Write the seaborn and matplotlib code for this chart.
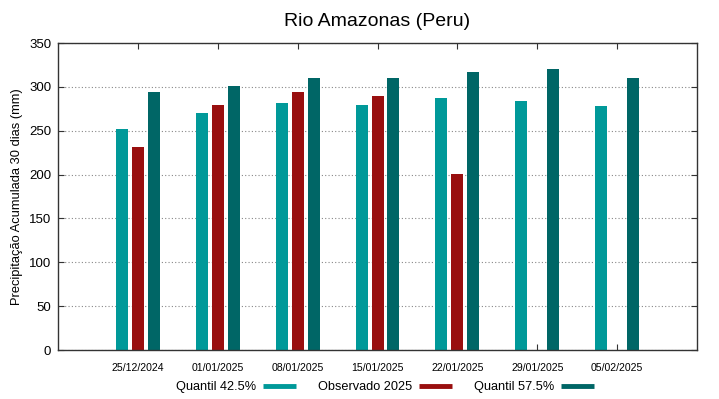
import numpy as np
import pandas as pd
import seaborn as sns
import matplotlib.pyplot as plt
from matplotlib.lines import Line2D

datas = ["25/12/2024", "01/01/2025", "08/01/2025", "15/01/2025",
         "22/01/2025", "29/01/2025", "05/02/2025"]
quantil_425 = [252, 270, 282, 279, 287, 284, 278]
observado_2025 = [232, 279, 294, 290, 201, np.nan, np.nan]
quantil_575 = [294, 301, 310, 310, 317, 320, 310]

series = ["Quantil 42.5%", "Observado 2025", "Quantil 57.5%"]
cores = ["#009999", "#990f0f", "#006666"]

df = pd.DataFrame({
    "data": datas * 3,
    "serie": [series[0]] * 7 + [series[1]] * 7 + [series[2]] * 7,
    "valor": quantil_425 + observado_2025 + quantil_575,
})

sns.set_style("white")
plt.rcParams["font.family"] = ["Liberation Sans", "DejaVu Sans"]
plt.rcParams["text.color"] = "black"
plt.rcParams["xtick.labelcolor"] = "black"
plt.rcParams["ytick.labelcolor"] = "black"
plt.rcParams["axes.labelcolor"] = "black"

fig = plt.figure(figsize=(7.19, 3.99), dpi=100)
ax = fig.add_axes([0.0807, 0.1228, 0.8887, 0.7692])

sns.barplot(data=df, x="data", y="valor", hue="serie", order=datas,
            hue_order=series, palette=cores, width=0.6, gap=0.25,
            saturation=1, edgecolor="none", legend=False, ax=ax, zorder=2)

ax.set_xlim(-1, 7)
ax.set_ylim(0, 350)
ax.set_yticks(range(0, 351, 50))
ax.grid(axis="y", linestyle=(0, (1, 2)), color="#888888", linewidth=0.8, zorder=0)
ax.set_axisbelow(True)

ax.tick_params(axis="both", direction="in", length=4, width=0.8,
               top=True, right=True, bottom=True, left=True, color="#333333")
ax.tick_params(axis="y", labelsize=9.5, pad=5)
ax.tick_params(axis="x", labelsize=7.6, pad=9)
for s in ax.spines.values():
    s.set_color("#333333")
    s.set_linewidth(1)

ax.set_xlabel("")
ax.set_ylabel("Precipitação Acumulada 30 dias (mm)", fontsize=9.3, labelpad=4)
ax.set_title("Rio Amazonas (Peru)", fontsize=14, pad=12)

handles = [Line2D([0], [0], color=c, lw=3.5, solid_capstyle="butt") for c in cores]
fig.legend(handles, series, loc="center", bbox_to_anchor=(385 / 719, 1 - 387 / 399),
           ncol=3, frameon=False, markerfirst=False, fontsize=9.2,
           handlelength=2.6, columnspacing=1.7, handletextpad=0.55,
           borderpad=0)

fig.savefig("out.png", dpi=100)
